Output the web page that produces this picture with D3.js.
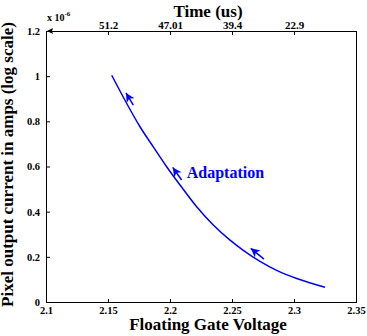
<!DOCTYPE html>
<html>
<head>
<meta charset="utf-8">
<script src="https://cdn.jsdelivr.net/npm/d3@7"></script>
<style>
    body { margin: 0; background: #fff; }
</style>
</head>
<body>
<script>
// floating gate voltage (V) vs pixel current (x 1e-6 A)
var voltage = [2.153, 2.1651, 2.1758, 2.1865, 2.1973, 2.2081, 2.2215, 2.2349, 2.2484, 2.2591, 2.2726, 2.286, 2.3022, 2.325];
var current = [1.004, 0.879, 0.776, 0.687, 0.599, 0.518, 0.422, 0.341, 0.274, 0.229, 0.180, 0.140, 0.104, 0.065];

var xTicks = [2.1, 2.15, 2.2, 2.25, 2.3, 2.35];
var yTicks = [0, 0.2, 0.4, 0.6, 0.8, 1, 1.2];
var timeTickVoltage = [2.15, 2.2, 2.25, 2.3];
var timeTickLabels = ["51.2", "47.01", "39.4", "22.9"];

// adaptation arrows: tail -> head
var arrowTailV = [2.1704, 2.2094, 2.2758];
var arrowTailI = [0.872, 0.540, 0.190];
var arrowHeadV = [2.1645, 2.2022, 2.2651];
var arrowHeadI = [0.926, 0.596, 0.2376];

var W = 367, H = 336;
var margin = {top: 31, right: 11, bottom: 34, left: 46};
var width = W - margin.left - margin.right;
var height = H - margin.top - margin.bottom;
var blue = "#0000ff";
var serif = "'Liberation Serif', 'Times New Roman', serif";

var xScale = d3.scaleLinear().domain([2.1, 2.35]).range([0, width]);
var yScale = d3.scaleLinear().domain([0, 1.2]).range([height, 0]);

var svg = d3.select("body").append("svg")
    .attr("width", W)
    .attr("height", H)
    .append("g")
    .attr("transform", "translate(" + margin.left + "," + margin.top + ")");

svg.append("rect")
    .attr("width", width)
    .attr("height", height)
    .attr("fill", "none")
    .attr("stroke", "#000")
    .attr("stroke-width", 1)
    .attr("shape-rendering", "crispEdges");

function styleAxis(g, size) {
    g.select(".domain").remove();
    g.attr("font-family", serif);
    g.selectAll("text")
        .style("font-family", serif)
        .style("font-weight", "bold")
        .style("font-size", size);
}

var xAxis = svg.append("g")
    .attr("transform", "translate(0," + height + ")")
    .call(d3.axisBottom(xScale).tickValues(xTicks).tickSize(-3).tickPadding(5)
        .tickFormat(function(d) { return +d.toFixed(2); }));
styleAxis(xAxis, "10.5px");

var yAxis = svg.append("g")
    .call(d3.axisLeft(yScale).tickValues(yTicks).tickSize(-4).tickPadding(6)
        .tickFormat(function(d) { return +d.toFixed(1); }));
styleAxis(yAxis, "10.5px");

var topAxis = svg.append("g")
    .call(d3.axisTop(xScale).tickValues(timeTickVoltage).tickSize(-4).tickPadding(2)
        .tickFormat(function(d, i) { return timeTickLabels[i]; }));
styleAxis(topAxis, "11px");

// little arrowhead at the left end of the time axis
svg.append("path")
    .attr("d", "M1,0 L7,-3 L6,0 L7,3 Z")
    .attr("fill", "#000");

var line = d3.line()
    .x(function(d) { return xScale(d[0]); })
    .y(function(d) { return yScale(d[1]); })
    .curve(d3.curveMonotoneX);

svg.append("path")
    .datum(voltage.map(function(v, i) { return [v, current[i]]; }))
    .attr("d", line)
    .attr("fill", "none")
    .attr("stroke", blue)
    .attr("stroke-width", 1.5);

var arrows = arrowTailV.map(function(v, i) {
    return {x1: xScale(v), y1: yScale(arrowTailI[i]), x2: xScale(arrowHeadV[i]), y2: yScale(arrowHeadI[i])};
});

svg.selectAll(".arrow-tail")
    .data(arrows)
    .enter()
    .append("line")
    .attr("x1", function(d) { return d.x1; })
    .attr("y1", function(d) { return d.y1; })
    .attr("x2", function(d) { return d.x2; })
    .attr("y2", function(d) { return d.y2; })
    .attr("stroke", blue)
    .attr("stroke-width", 1.5);

svg.selectAll(".arrow-head")
    .data(arrows)
    .enter()
    .append("path")
    .attr("d", "M0,0 L-9,-4.5 L-6.5,0 L-9,4.5 Z")
    .attr("fill", blue)
    .attr("transform", function(d) {
        var a = Math.atan2(d.y2 - d.y1, d.x2 - d.x1) * 180 / Math.PI;
        return "translate(" + d.x2 + "," + d.y2 + ") rotate(" + a + ")";
    });

function label(x, y, size) {
    return svg.append("text")
        .attr("x", x)
        .attr("y", y)
        .style("font-family", serif)
        .style("font-weight", "bold")
        .style("font-size", size)
        .attr("fill", "#000");
}

label(xScale(2.2135), yScale(0.547), "16px")
    .attr("fill", blue)
    .text("Adaptation");

// exponent label
var expo = label(1, -10, "10px");
expo.append("tspan").text("x 10");
expo.append("tspan").attr("dy", -5).style("font-size", "7px").text("-6");

label(162, -14, "17px")
    .attr("text-anchor", "middle")
    .text("Time (us)");

label(162, height + 28, "17px")
    .attr("text-anchor", "middle")
    .text("Floating Gate Voltage");

label(-(height / 2) + 2, -33, "17px")
    .attr("transform", "rotate(-90)")
    .attr("text-anchor", "middle")
    .text("Pixel output current in amps (log scale)");
</script>
</body>
</html>
